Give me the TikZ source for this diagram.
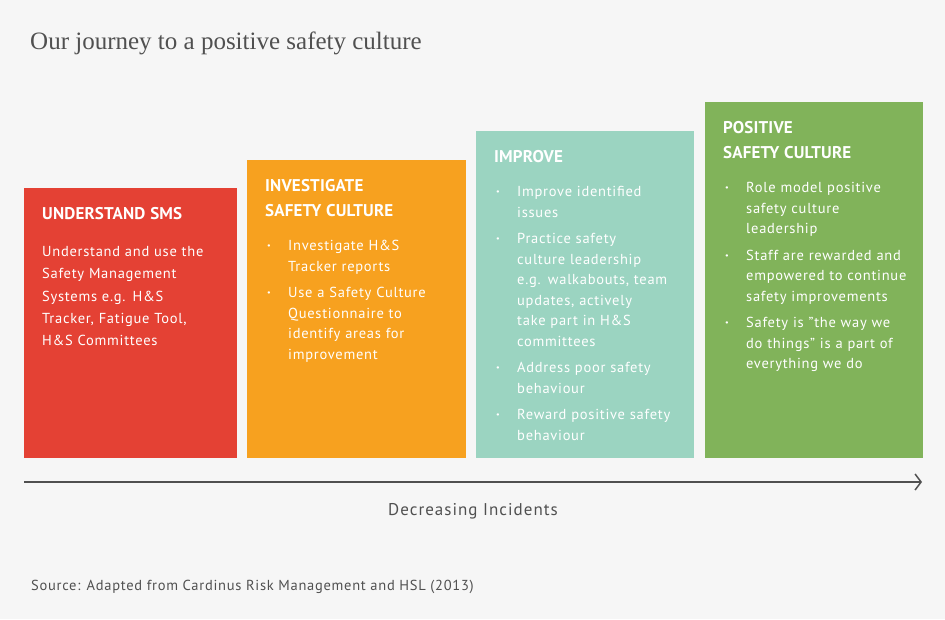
\documentclass[tikz,border=0pt]{standalone}
\usepackage{fontspec}
\setmainfont{PT Sans}
\newfontfamily\titlefont{Liberation Serif}
\usetikzlibrary{arrows.meta}

\definecolor{pagebg}{HTML}{F6F6F6}
\definecolor{smsred}{HTML}{E44134}
\definecolor{investorange}{HTML}{F7A11F}
\definecolor{improveteal}{HTML}{9BD4C1}
\definecolor{positivegreen}{HTML}{81B35A}
\definecolor{inkgray}{HTML}{505050}

\newcommand{\spaced}[1]{\addfontfeature{LetterSpace=#1}}
\newcommand{\stagehead}[1]{{\fontsize{17}{25}\selectfont\bfseries\spaced{1} #1\par}}
\newcommand{\stageitem}[1]{\par\noindent\llap{\makebox[23pt][l]{\hspace{2pt}{\bfseries·}}}#1}

\begin{document}
\begin{tikzpicture}[x=1pt, y=-1pt,
    stage/.style={anchor=north west, inner sep=0, draw=none},
    stagetext/.style={anchor=north west, inner sep=0, text width=205pt, align=left,
      text=white, font=\fontsize{14.5}{20.5}\selectfont\spaced{5}},
    axis/.style={draw=inkgray, line width=2pt, -{Straight Barb[length=6pt, width=16pt, line width=1.5pt]}}]
  \useasboundingbox[fill=pagebg] (0,0) rectangle (945,619);
  \node[anchor=base west, inner sep=0, text=inkgray, font=\titlefont\fontsize{25}{29}\selectfont] (title) at (30,49) {Our journey to a positive safety culture};

  % the four stages
  \node[stage, fill=smsred, minimum width=213pt, minimum height=270pt] (sms) at (24,188) {};
  \node[stage, fill=investorange, minimum width=219pt, minimum height=298pt] (investigate) at (247,160) {};
  \node[stage, fill=improveteal, minimum width=218pt, minimum height=327pt] (improve) at (476,131) {};
  \node[stage, fill=positivegreen, minimum width=218pt, minimum height=356pt] (positive) at (705,102) {};

  \node[stagetext, font=\fontsize{14.5}{22.4}\selectfont\spaced{5}] (smsT) at ([xshift=18pt, yshift=-19.5pt]sms.north west) {%
    \stagehead{UNDERSTAND SMS}\vspace{14pt}
    Understand and use the\\ Safety Management\\ Systems e.g. H\&S\\ Tracker, Fatigue Tool,\\ H\&S Committees\par};
  \node[stagetext] (investigateT) at ([xshift=18pt, yshift=-19.5pt]investigate.north west) {%
    \stagehead{INVESTIGATE\\ SAFETY CULTURE}\vspace{13.5pt}\leftskip=23pt
    \stageitem{Investigate H\&S\\ Tracker reports}\par\vspace{6pt}
    \stageitem{Use a Safety Culture\\ Questionnaire to\\ identify areas for\\ improvement}\par};
  \node[stagetext] (improveT) at ([xshift=18pt, yshift=-19.5pt]improve.north west) {%
    \stagehead{IMPROVE}\vspace{13.5pt}\leftskip=23pt
    \stageitem{Improve identified\\ issues}\par\vspace{6pt}
    \stageitem{Practice safety\\ culture leadership\\ e.g. walkabouts, team\\ updates, actively\\ take part in H\&S\\ committees}\par\vspace{6pt}
    \stageitem{Address poor safety\\ behaviour}\par\vspace{6pt}
    \stageitem{Reward positive safety\\ behaviour}\par};
  \node[stagetext] (positiveT) at ([xshift=18pt, yshift=-19.5pt]positive.north west) {%
    \stagehead{POSITIVE\\ SAFETY CULTURE}\vspace{13.5pt}\leftskip=23pt
    \stageitem{Role model positive\\ safety culture\\ leadership}\par\vspace{6pt}
    \stageitem{Staff are rewarded and\\ empowered to continue\\ safety improvements}\par\vspace{6pt}
    \stageitem{Safety is "the way we\\ do things" is a part of\\ everything we do}\par};

  % incidents axis
  \coordinate (axisstart) at (24,482);
  \coordinate (axisend) at (922,482);
  \draw[axis] (axisstart) -- (axisend);
  \node[anchor=base, inner sep=0, text=inkgray, font=\fontsize{17}{20}\selectfont\spaced{6}] (decreasing) at (473,515) {Decreasing Incidents};
  \node[anchor=base west, inner sep=0, text=inkgray, font=\fontsize{14.5}{18}\selectfont\spaced{5}] (source) at (31,590) {Source: Adapted from Cardinus Risk Management and HSL (2013)};
\end{tikzpicture}
\end{document}
